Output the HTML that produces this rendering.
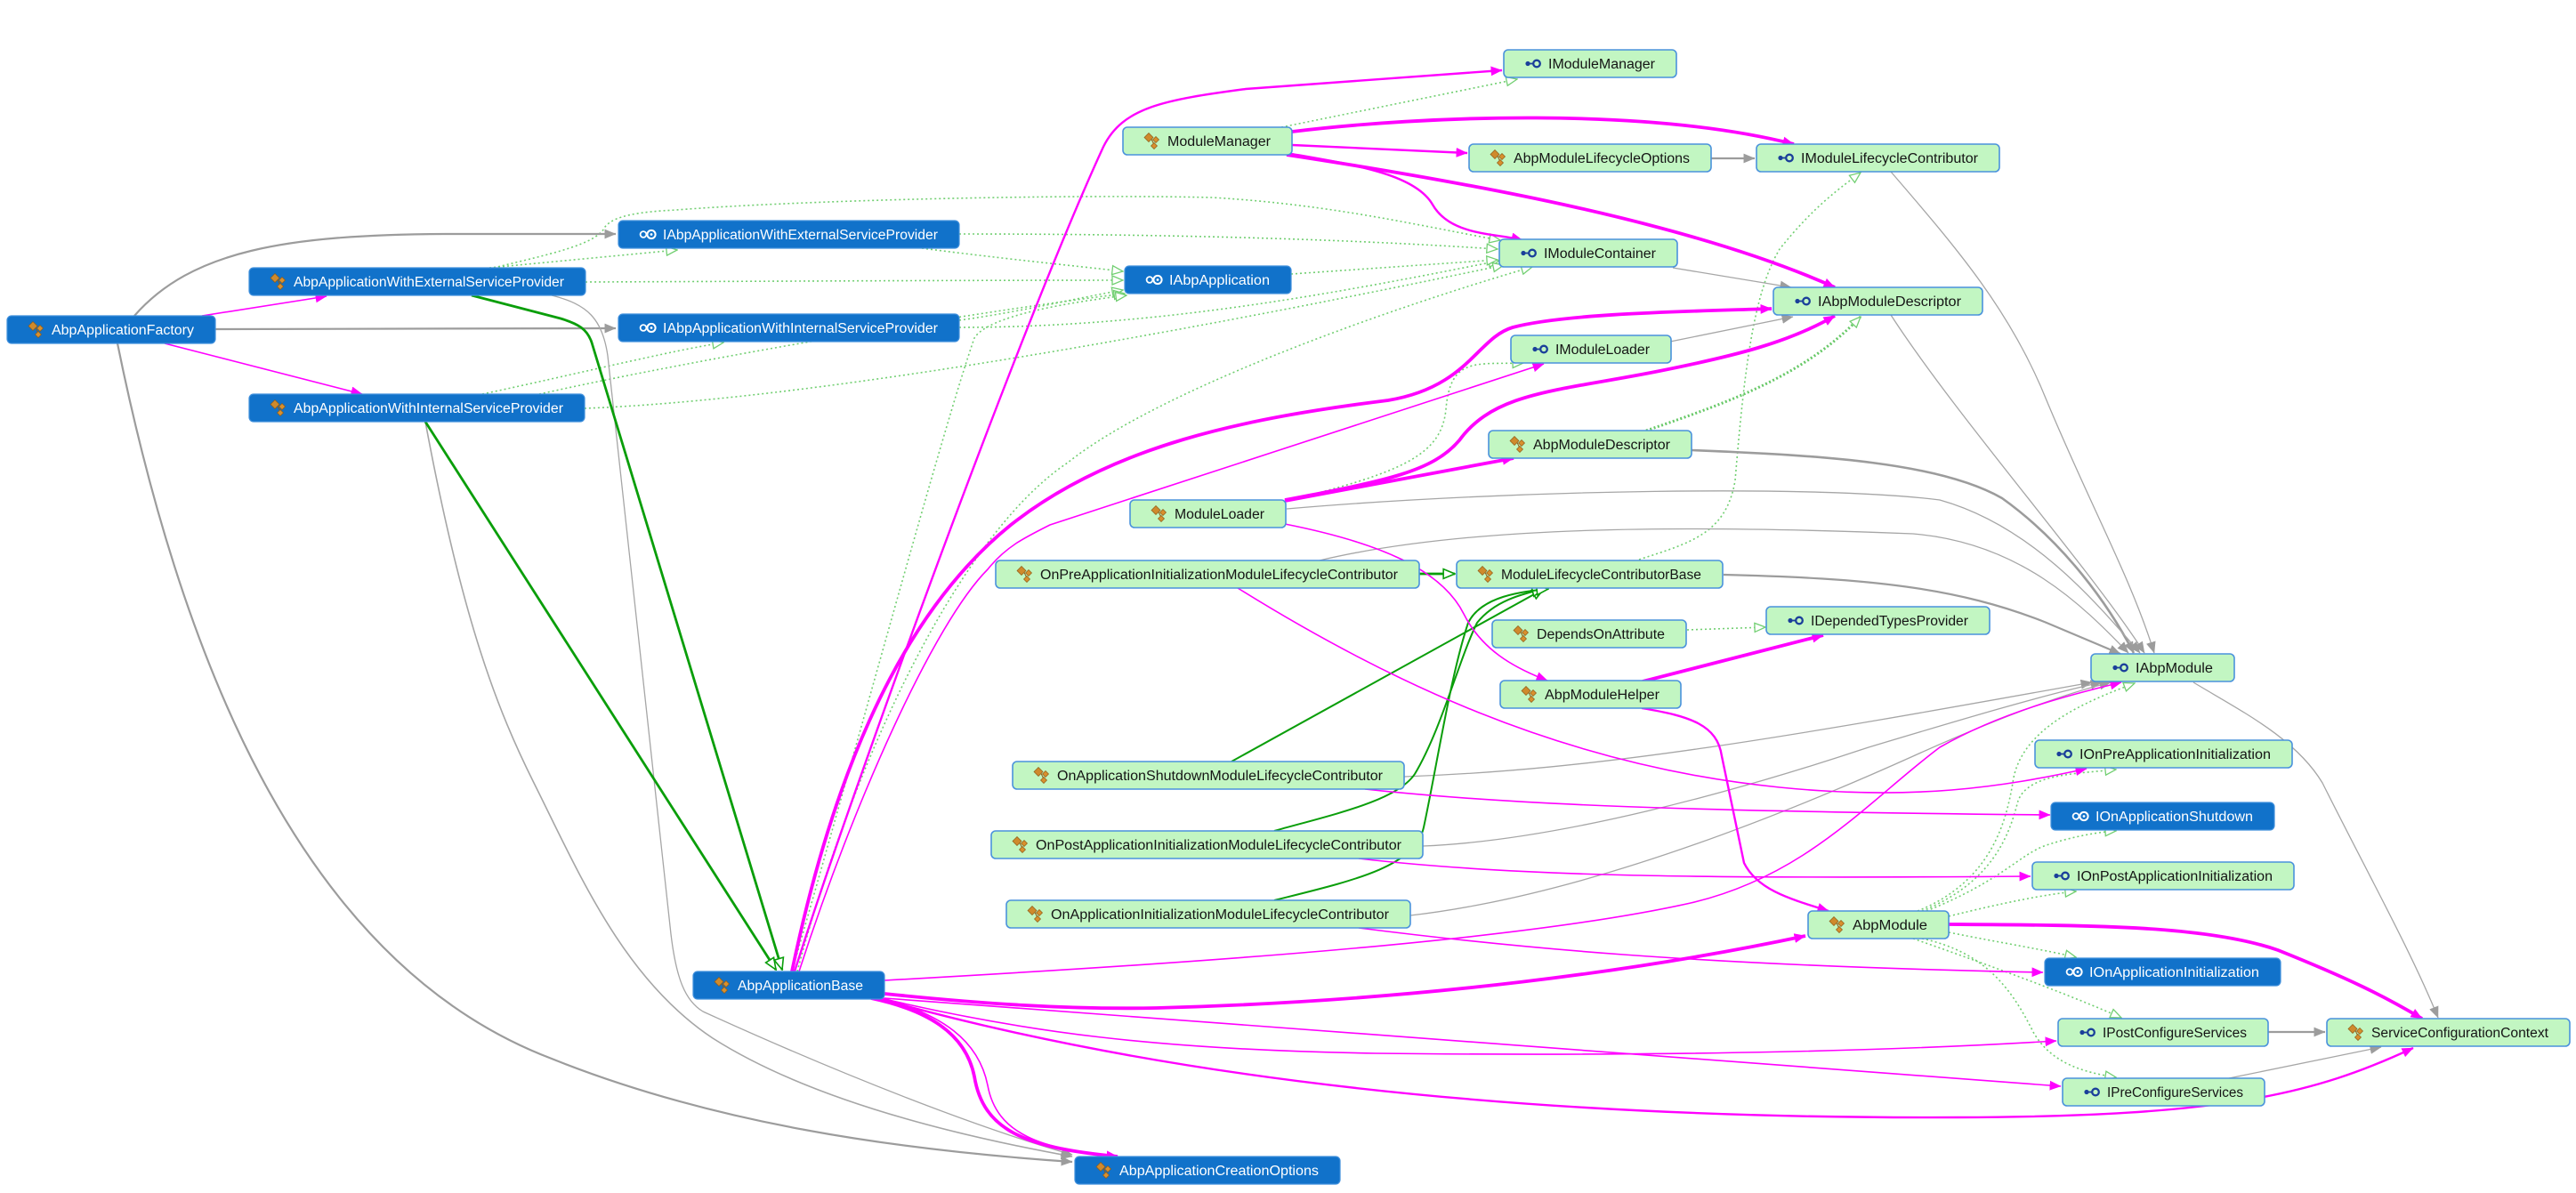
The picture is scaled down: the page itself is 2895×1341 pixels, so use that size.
<!DOCTYPE html>
<html><head><meta charset="utf-8"><style>
html,body{margin:0;padding:0;background:#fff;}
svg{display:block;}
.t{font-family:"Liberation Sans","DejaVu Sans",sans-serif;font-size:15.5px;}
.tg{fill:#151515;}
.tb{fill:#ffffff;}
.ng{fill:#c2f6c2;stroke:#4a92dc;stroke-width:1.6;}
.nb{fill:#1172ca;stroke:#3f8fdc;stroke-width:1.2;}
.d1{fill:none;stroke:#72cf72;stroke-width:1.6;stroke-dasharray:2 3;}
.d3{fill:none;stroke:#66c866;stroke-width:3;stroke-dasharray:2 2.5;}
.g1{fill:none;stroke:#a6a6a6;stroke-width:1.3;}
.g2{fill:none;stroke:#9c9c9c;stroke-width:2.2;}
.gi{fill:none;stroke:#0a9e0a;stroke-width:2.8;}
.gi2{fill:none;stroke:#0a9e0a;stroke-width:2;}
.m1{fill:none;stroke:#ff00ff;stroke-width:1.6;}
.m2{fill:none;stroke:#ff00ff;stroke-width:2.4;}
.m3{fill:none;stroke:#ff00ff;stroke-width:3.8;}
</style></head><body>
<svg width="2895" height="1341" viewBox="0 0 2895 1341" xmlns="http://www.w3.org/2000/svg">
<defs>
<marker id="am" viewBox="0 0 12 10" refX="11.5" refY="5" markerWidth="13" markerHeight="11" orient="auto" markerUnits="userSpaceOnUse"><path d="M0,0 L12,5 L0,10 z" fill="#ff00ff"/></marker>
<marker id="ag" viewBox="0 0 12 10" refX="11.5" refY="5" markerWidth="13" markerHeight="11" orient="auto" markerUnits="userSpaceOnUse"><path d="M0,0 L12,5 L0,10 z" fill="#9c9c9c"/></marker>
<marker id="ad" viewBox="0 0 14 12" refX="13" refY="6" markerWidth="14" markerHeight="12" orient="auto" markerUnits="userSpaceOnUse"><path d="M1,1 L13,6 L1,11 z" fill="#fff" stroke="#72cf72" stroke-width="1.3"/></marker>
<marker id="ai" viewBox="0 0 14 12" refX="13" refY="6" markerWidth="15" markerHeight="13" orient="auto" markerUnits="userSpaceOnUse"><path d="M1,1 L13,6 L1,11 z" fill="#fff" stroke="#0a9e0a" stroke-width="1.5"/></marker>
<g id="ic"><polygon points="6,1 11,6 6,11 1,6" fill="#cf8a2c" stroke="#8c5a16" stroke-width="0.7"/><line x1="9" y1="8" x2="12" y2="14" stroke="#8c5a16" stroke-width="1"/><polygon points="14,5 17.5,8.5 14,12 10.5,8.5" fill="#d8902e" stroke="#8c5a16" stroke-width="0.7"/><polygon points="12,12 15.5,15.5 12,19 8.5,15.5" fill="#d8902e" stroke="#8c5a16" stroke-width="0.7"/></g>
<g id="iig"><circle cx="3" cy="10" r="2.6" fill="#1a3f9a"/><line x1="4" y1="10" x2="9" y2="10" stroke="#1a3f9a" stroke-width="1.8"/><circle cx="13" cy="10" r="3.8" fill="none" stroke="#1a3f9a" stroke-width="2.3"/></g>
<g id="iib"><circle cx="4" cy="10" r="3.4" fill="none" stroke="#fff" stroke-width="1.8"/><circle cx="13" cy="10" r="4.6" fill="none" stroke="#fff" stroke-width="2"/><circle cx="13" cy="10" r="1.4" fill="#fff"/></g>
</defs>
<rect width="2895" height="1341" fill="#fff"/>

<!-- dotted implementation edges -->
<g marker-end="url(#ad)">
<path class="d1" d="M550,301 L761,281"/>
<path class="d1" d="M658,317 C900,316 1100,315 1262,315"/>
<path class="d1" d="M555,301 C620,285 670,275 680,255 C690,242 720,238 760,236 C900,225 1200,218 1362,222 C1500,230 1600,255 1686,270"/>
<path class="d1" d="M1036,279 C1120,290 1200,298 1262,305"/>
<path class="d1" d="M1078,263 C1300,263 1500,268 1683,280"/>
<path class="d1" d="M1078,360 C1150,350 1210,335 1262,326"/>
<path class="d1" d="M1078,368 C1300,368 1500,330 1685,293"/>
<path class="d1" d="M542,443 C650,420 750,395 813,385"/>
<path class="d1" d="M606,443 C800,400 1100,350 1264,330"/>
<path class="d1" d="M657,459 C900,450 1300,380 1690,298"/>
<path class="d1" d="M1451,308 L1683,292"/>
<path class="d1" d="M890,1092 C960,850 1060,480 1095,380 C1110,355 1200,340 1266,332"/>
<path class="d1" d="M896,1092 C960,850 1080,600 1200,520 C1300,440 1550,350 1722,300"/>
<path class="d1" d="M1440,143 L1705,89"/>
<path class="d3" d="M1850,484 C1950,450 2030,420 2091,356"/>
<path class="d1" d="M1842,629 C1900,610 1940,600 1950,540 C1960,420 1970,330 2000,280 C2040,230 2070,210 2091,194"/>
<path class="d1" d="M1450,562 C1580,530 1620,510 1625,460 C1630,400 1660,410 1712,408"/>
<path class="d1" d="M1896,708 L1984,705"/>
<path class="d1" d="M2155,1024 C2240,990 2255,920 2262,880 C2270,820 2340,790 2399,768"/>
<path class="d1" d="M2160,1024 C2245,990 2260,930 2268,900 C2280,870 2330,870 2378,865"/>
<path class="d1" d="M2165,1024 C2250,990 2270,960 2300,950 C2330,940 2360,935 2378,934"/>
<path class="d1" d="M2190,1030 C2250,1015 2300,1005 2333,1002"/>
<path class="d1" d="M2190,1048 C2250,1060 2300,1068 2333,1076"/>
<path class="d1" d="M2150,1055 C2250,1090 2330,1120 2384,1144"/>
<path class="d1" d="M2160,1055 C2230,1070 2260,1110 2285,1160 C2305,1195 2340,1205 2378,1211"/>
</g>

<!-- gray reference edges -->
<g marker-end="url(#ag)">
<path class="g2" d="M151,355 C215,282 320,264 500,263 L692,263"/>
<path class="g2" d="M242,370 L692,369"/>
<path class="g2" d="M132,386 C200,720 330,1080 620,1190 C800,1262 1000,1292 1205,1306"/>
<path class="g1" d="M620,332 C660,342 677,358 683,400 L754,1050 C760,1100 770,1125 790,1137 C950,1210 1100,1268 1205,1298"/>
<path class="g1" style="stroke-width:1.6" d="M478,474 C520,700 560,800 600,880 C650,980 700,1100 801,1167 C900,1230 1050,1272 1205,1300"/>
<path class="g2" d="M1923,178 L1972,178"/>
<path class="g1" d="M2125,193 C2200,280 2260,350 2300,450 C2350,570 2395,650 2421,734"/>
<path class="g1" d="M1880,301 L2013,323"/>
<path class="g1" d="M2125,354 C2200,470 2350,640 2410,734"/>
<path class="g1" d="M1877,384 L2015,356"/>
<path class="g2" style="stroke-width:2.6" d="M1901,506 C2050,512 2180,520 2250,560 C2320,610 2370,680 2398,734"/>
<path class="g1" d="M1446,572 C1700,550 2050,545 2180,562 C2280,590 2350,670 2405,734"/>
<path class="g1" d="M1483,630 C1650,590 1900,590 2150,600 C2270,610 2340,680 2392,734"/>
<path class="g2" d="M1937,646 C2100,650 2200,660 2300,700 L2383,735"/>
<path class="g1" d="M1578,873 C1800,865 2000,830 2351,767"/>
<path class="g1" d="M1599,951 C1750,945 1950,890 2100,840 C2200,810 2300,780 2362,767"/>
<path class="g1" d="M1585,1029 C1750,1010 1950,940 2150,850 C2250,805 2320,780 2372,767"/>
<path class="g1" d="M2465,767 C2520,800 2580,830 2610,880 C2660,980 2710,1070 2740,1144"/>
<path class="g2" d="M2549,1160 L2613,1160"/>
<path class="g1" d="M2505,1212 L2676,1177"/>
</g>

<!-- inheritance edges -->
<g marker-end="url(#ai)">
<path class="gi" d="M478,474 L872,1090"/>
<path class="gi" d="M530,332 L630,358 C650,364 660,370 665,385 L879,1090"/>
<path class="gi" d="M1595,645 L1635,645"/>
<path class="gi2" d="M1384,856 L1735,662"/>
<path class="gi2" d="M1432,934 C1500,915 1570,900 1590,870 C1620,820 1640,740 1660,700 C1680,675 1710,668 1735,662"/>
<path class="gi2" d="M1432,1012 C1520,990 1590,975 1600,930 C1615,860 1630,760 1650,700 C1665,670 1710,665 1740,662"/>
</g>

<!-- magenta dependency edges -->
<path class="m1" d="M985,1120 C1060,1140 1100,1170 1110,1220 C1120,1275 1170,1292 1256,1300"/>
<g marker-end="url(#am)">
<path class="m1" d="M227,355 L367,333"/>
<path class="m1" d="M185,386 L407,443"/>
<path class="m2" d="M893,1092 C960,880 1150,360 1240,165 C1262,120 1310,112 1400,100 L1688,79"/>
<path class="m3" d="M890,1092 C930,900 1000,700 1136,590 C1250,500 1400,470 1560,450 C1650,435 1660,380 1700,368 C1760,352 1900,350 1991,347"/>
<path class="m1" d="M898,1092 C960,900 1050,700 1110,640 C1130,615 1150,605 1180,590 L1735,409"/>
<path class="m3" d="M979,1122 C1040,1135 1085,1160 1095,1210 C1105,1270 1150,1290 1256,1300"/>
<path class="m3" d="M994,1117 C1100,1128 1200,1135 1300,1133 C1600,1125 1850,1090 2029,1052"/>
<path class="m1" d="M994,1102 C1300,1085 1700,1060 1900,1015 C2030,985 2100,900 2180,840 C2250,800 2330,780 2384,767"/>
<path class="m1" d="M990,1122 C1150,1160 1300,1180 1546,1184 C1900,1188 2150,1180 2311,1170"/>
<path class="m1" d="M994,1122 C1400,1150 2000,1200 2316,1221"/>
<path class="m2" d="M990,1123 C1300,1210 1700,1258 2200,1256 C2500,1255 2600,1230 2712,1178"/>
<path class="m3" d="M1452,148 C1600,130 1850,120 2016,162"/>
<path class="m2" d="M1452,163 L1649,172"/>
<path class="m2" d="M1446,172 C1520,185 1590,195 1610,230 C1630,265 1680,262 1711,270"/>
<path class="m3" d="M1446,174 C1650,205 1900,250 2062,323"/>
<path class="m3" d="M1444,563 L1701,515"/>
<path class="m3" d="M1444,562 C1560,540 1610,530 1640,495 C1680,440 1750,440 1865,417 C1950,400 2010,385 2062,355"/>
<path class="m1" d="M1444,589 C1550,610 1620,640 1645,690 C1665,730 1700,750 1739,765"/>
<path class="m1" d="M1391,661 C1550,760 1750,860 2000,885 C2150,900 2250,885 2345,864"/>
<path class="m3" d="M1846,766 L2049,714"/>
<path class="m2" d="M1845,796 C1900,805 1930,815 1935,850 L1960,970 C1975,1000 2010,1010 2055,1024"/>
<path class="m1" d="M1534,887 C1700,905 1900,912 2304,916"/>
<path class="m1" d="M1527,965 C1700,985 1900,988 2282,985"/>
<path class="m1" d="M1527,1043 C1700,1065 1900,1085 2296,1093"/>
<path class="m3" d="M2190,1039 C2350,1040 2480,1040 2560,1068 C2640,1100 2680,1120 2722,1145"/>
</g>

<!-- nodes -->
<g class="t">
<rect class="ng" x="1690" y="56" width="194" height="31" rx="5"/><use href="#iig" x="1714" y="61.5"/><text class="tg" x="1740" y="77" textLength="120" lengthAdjust="spacingAndGlyphs">IModuleManager</text>
<rect class="ng" x="1262" y="143" width="190" height="31" rx="5"/><use href="#ic" x="1285" y="148.5"/><text class="tg" x="1312" y="164" textLength="116" lengthAdjust="spacingAndGlyphs">ModuleManager</text>
<rect class="ng" x="1651" y="162" width="272" height="31" rx="5"/><use href="#ic" x="1674" y="167.5"/><text class="tg" x="1701" y="183" textLength="198" lengthAdjust="spacingAndGlyphs">AbpModuleLifecycleOptions</text>
<rect class="ng" x="1974" y="162" width="273" height="31" rx="5"/><use href="#iig" x="1998" y="167.5"/><text class="tg" x="2024" y="183" textLength="199" lengthAdjust="spacingAndGlyphs">IModuleLifecycleContributor</text>
<rect class="nb" x="695" y="248" width="383" height="31" rx="5"/><use href="#iib" x="719" y="253.5"/><text class="tb" x="745" y="269" textLength="309" lengthAdjust="spacingAndGlyphs">IAbpApplicationWithExternalServiceProvider</text>
<rect class="ng" x="1685" y="269" width="200" height="31" rx="5"/><use href="#iig" x="1709" y="274.5"/><text class="tg" x="1735" y="290" textLength="126" lengthAdjust="spacingAndGlyphs">IModuleContainer</text>
<rect class="nb" x="280" y="301" width="378" height="31" rx="5"/><use href="#ic" x="303" y="306.5"/><text class="tb" x="330" y="322" textLength="304" lengthAdjust="spacingAndGlyphs">AbpApplicationWithExternalServiceProvider</text>
<rect class="nb" x="1264" y="299" width="187" height="31" rx="5"/><use href="#iib" x="1288" y="304.5"/><text class="tb" x="1314" y="320" textLength="113" lengthAdjust="spacingAndGlyphs">IAbpApplication</text>
<rect class="ng" x="1993" y="323" width="235" height="31" rx="5"/><use href="#iig" x="2017" y="328.5"/><text class="tg" x="2043" y="344" textLength="161" lengthAdjust="spacingAndGlyphs">IAbpModuleDescriptor</text>
<rect class="nb" x="8" y="355" width="234" height="31" rx="5"/><use href="#ic" x="31" y="360.5"/><text class="tb" x="58" y="376" textLength="160" lengthAdjust="spacingAndGlyphs">AbpApplicationFactory</text>
<rect class="nb" x="695" y="353" width="383" height="31" rx="5"/><use href="#iib" x="719" y="358.5"/><text class="tb" x="745" y="374" textLength="309" lengthAdjust="spacingAndGlyphs">IAbpApplicationWithInternalServiceProvider</text>
<rect class="ng" x="1698" y="377" width="180" height="31" rx="5"/><use href="#iig" x="1722" y="382.5"/><text class="tg" x="1748" y="398" textLength="106" lengthAdjust="spacingAndGlyphs">IModuleLoader</text>
<rect class="nb" x="280" y="443" width="377" height="31" rx="5"/><use href="#ic" x="303" y="448.5"/><text class="tb" x="330" y="464" textLength="303" lengthAdjust="spacingAndGlyphs">AbpApplicationWithInternalServiceProvider</text>
<rect class="ng" x="1673" y="484" width="228" height="31" rx="5"/><use href="#ic" x="1696" y="489.5"/><text class="tg" x="1723" y="505" textLength="154" lengthAdjust="spacingAndGlyphs">AbpModuleDescriptor</text>
<rect class="ng" x="1270" y="562" width="175" height="31" rx="5"/><use href="#ic" x="1293" y="567.5"/><text class="tg" x="1320" y="583" textLength="101" lengthAdjust="spacingAndGlyphs">ModuleLoader</text>
<rect class="ng" x="1119" y="630" width="476" height="31" rx="5"/><use href="#ic" x="1142" y="635.5"/><text class="tg" x="1169" y="651" textLength="402" lengthAdjust="spacingAndGlyphs">OnPreApplicationInitializationModuleLifecycleContributor</text>
<rect class="ng" x="1637" y="630" width="299" height="31" rx="5"/><use href="#ic" x="1660" y="635.5"/><text class="tg" x="1687" y="651" textLength="225" lengthAdjust="spacingAndGlyphs">ModuleLifecycleContributorBase</text>
<rect class="ng" x="1677" y="697" width="218" height="31" rx="5"/><use href="#ic" x="1700" y="702.5"/><text class="tg" x="1727" y="718" textLength="144" lengthAdjust="spacingAndGlyphs">DependsOnAttribute</text>
<rect class="ng" x="1985" y="682" width="251" height="31" rx="5"/><use href="#iig" x="2009" y="687.5"/><text class="tg" x="2035" y="703" textLength="177" lengthAdjust="spacingAndGlyphs">IDependedTypesProvider</text>
<rect class="ng" x="2350" y="735" width="161" height="31" rx="5"/><use href="#iig" x="2374" y="740.5"/><text class="tg" x="2400" y="756" textLength="87" lengthAdjust="spacingAndGlyphs">IAbpModule</text>
<rect class="ng" x="1686" y="765" width="203" height="31" rx="5"/><use href="#ic" x="1709" y="770.5"/><text class="tg" x="1736" y="786" textLength="129" lengthAdjust="spacingAndGlyphs">AbpModuleHelper</text>
<rect class="ng" x="2287" y="832" width="289" height="31" rx="5"/><use href="#iig" x="2311" y="837.5"/><text class="tg" x="2337" y="853" textLength="215" lengthAdjust="spacingAndGlyphs">IOnPreApplicationInitialization</text>
<rect class="ng" x="1138" y="856" width="440" height="31" rx="5"/><use href="#ic" x="1161" y="861.5"/><text class="tg" x="1188" y="877" textLength="366" lengthAdjust="spacingAndGlyphs">OnApplicationShutdownModuleLifecycleContributor</text>
<rect class="nb" x="2305" y="902" width="251" height="31" rx="5"/><use href="#iib" x="2329" y="907.5"/><text class="tb" x="2355" y="923" textLength="177" lengthAdjust="spacingAndGlyphs">IOnApplicationShutdown</text>
<rect class="ng" x="1114" y="934" width="485" height="31" rx="5"/><use href="#ic" x="1137" y="939.5"/><text class="tg" x="1164" y="955" textLength="411" lengthAdjust="spacingAndGlyphs">OnPostApplicationInitializationModuleLifecycleContributor</text>
<rect class="ng" x="2284" y="969" width="294" height="31" rx="5"/><use href="#iig" x="2308" y="974.5"/><text class="tg" x="2334" y="990" textLength="220" lengthAdjust="spacingAndGlyphs">IOnPostApplicationInitialization</text>
<rect class="ng" x="1131" y="1012" width="454" height="31" rx="5"/><use href="#ic" x="1154" y="1017.5"/><text class="tg" x="1181" y="1033" textLength="380" lengthAdjust="spacingAndGlyphs">OnApplicationInitializationModuleLifecycleContributor</text>
<rect class="ng" x="2032" y="1024" width="158" height="31" rx="5"/><use href="#ic" x="2055" y="1029.5"/><text class="tg" x="2082" y="1045" textLength="84" lengthAdjust="spacingAndGlyphs">AbpModule</text>
<rect class="nb" x="2298" y="1077" width="265" height="31" rx="5"/><use href="#iib" x="2322" y="1082.5"/><text class="tb" x="2348" y="1098" textLength="191" lengthAdjust="spacingAndGlyphs">IOnApplicationInitialization</text>
<rect class="nb" x="779" y="1092" width="215" height="31" rx="5"/><use href="#ic" x="802" y="1097.5"/><text class="tb" x="829" y="1113" textLength="141" lengthAdjust="spacingAndGlyphs">AbpApplicationBase</text>
<rect class="ng" x="2313" y="1145" width="236" height="31" rx="5"/><use href="#iig" x="2337" y="1150.5"/><text class="tg" x="2363" y="1166" textLength="162" lengthAdjust="spacingAndGlyphs">IPostConfigureServices</text>
<rect class="ng" x="2615" y="1145" width="273" height="31" rx="5"/><use href="#ic" x="2638" y="1150.5"/><text class="tg" x="2665" y="1166" textLength="199" lengthAdjust="spacingAndGlyphs">ServiceConfigurationContext</text>
<rect class="ng" x="2318" y="1212" width="227" height="31" rx="5"/><use href="#iig" x="2342" y="1217.5"/><text class="tg" x="2368" y="1233" textLength="153" lengthAdjust="spacingAndGlyphs">IPreConfigureServices</text>
<rect class="nb" x="1208" y="1300" width="298" height="31" rx="5"/><use href="#ic" x="1231" y="1305.5"/><text class="tb" x="1258" y="1321" textLength="224" lengthAdjust="spacingAndGlyphs">AbpApplicationCreationOptions</text>
</g>
</svg>
</body></html>
